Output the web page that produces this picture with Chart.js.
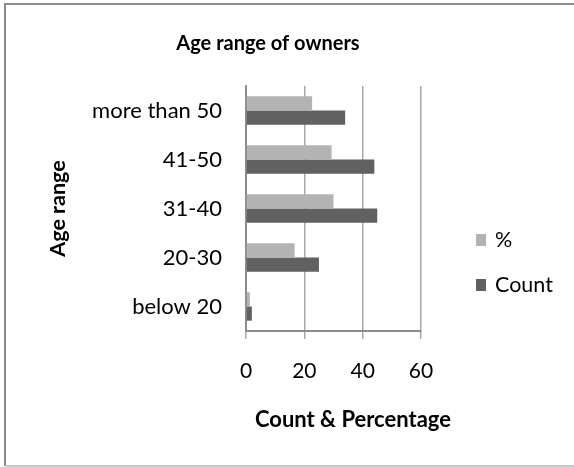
<!DOCTYPE html>
<html>
<head>
<meta charset="utf-8">
<script src="https://cdn.jsdelivr.net/npm/chart.js@4/dist/chart.umd.min.js"></script>
<style>
  html, body { margin: 0; padding: 0; background: #fff; }
  #wrap { width: 574px; height: 467px; }
</style>
</head>
<body>
<div id="wrap"><canvas id="c" width="574" height="467"></canvas></div>
<script>
// Age groups, top to bottom
const categories = ['more than 50', '41-50', '31-40', '20-30', 'below 20'];
// Owners in each age group
const countValues = [34, 44, 45, 25, 2];
// Share of all owners, in percent
const percentValues = [22.67, 29.33, 30.0, 16.67, 1.33];
const xTicks = [0, 20, 40, 60];

const FONT = 'Lato';
const chartTitle = 'Age range of owners';
const xTitle = 'Count & Percentage';
const yTitle = 'Age range';

// Frame, title, x-axis title and legend drawn on the canvas
const decorations = {
  id: 'decorations',
  beforeDraw(chart) {
    const ctx = chart.ctx;
    ctx.save();
    ctx.fillStyle = '#ffffff';
    ctx.fillRect(0, 0, chart.width, chart.height);
    // frame: darker top and left edges, light bottom edge
    ctx.lineWidth = 2;
    ctx.strokeStyle = '#8c8c8c';
    ctx.beginPath();
    ctx.moveTo(5, 466);
    ctx.lineTo(5, 4);
    ctx.lineTo(574, 4);
    ctx.stroke();
    ctx.strokeStyle = '#c8c8c8';
    ctx.beginPath();
    ctx.moveTo(6, 466);
    ctx.lineTo(574, 466);
    ctx.stroke();
    ctx.restore();
  },
  afterDraw(chart) {
    const ctx = chart.ctx;
    ctx.save();
    ctx.fillStyle = '#000';
    ctx.textAlign = 'center';
    ctx.textBaseline = 'middle';
    ctx.font = 'bold 20px ' + FONT;
    ctx.fillText(chartTitle, 268, 44);
    ctx.font = 'bold 22px ' + FONT;
    ctx.fillText(xTitle, 353, 420);

    // legend, listed in dataset order
    const ys = [240, 285];
    ctx.textAlign = 'left';
    ctx.font = '21.5px ' + FONT;
    chart.data.datasets.forEach((ds, i) => {
      ctx.fillStyle = ds.backgroundColor;
      ctx.fillRect(476, ys[i] - 6, 10, 12);
      ctx.fillStyle = '#000';
      ctx.fillText(ds.label, 495, ys[i]);
    });
    ctx.restore();
  }
};

new Chart(document.getElementById('c'), {
  type: 'bar',
  data: {
    labels: categories,
    datasets: [
      { label: '%', data: percentValues, backgroundColor: '#b3b3b3', categoryPercentage: 0.58, barPercentage: 1.0 },
      { label: 'Count', data: countValues, backgroundColor: '#616161', categoryPercentage: 0.58, barPercentage: 1.0 }
    ]
  },
  options: {
    indexAxis: 'y',
    responsive: false,
    animation: false,
    layout: { padding: { left: 0, top: 86, right: 153, bottom: 0 } },
    plugins: {
      legend: { display: false },
      title: { display: false },
      tooltip: { enabled: false }
    },
    scales: {
      x: {
        min: 0,
        max: 60,
        afterBuildTicks(scale) { scale.ticks = xTicks.map(v => ({ value: v })); },
        afterFit(scale) { scale.height = 136; },
        grid: { color: '#a8a8a8', lineWidth: 1.5, tickLength: 8, drawTicks: true },
        border: { display: true, color: '#8c8c8c', width: 2 },
        ticks: { color: '#000', font: { family: FONT, size: 21 }, padding: 20 }
      },
      y: {
        afterFit(scale) { scale.width = 246; },
        grid: { display: false, drawTicks: false },
        border: { display: true, color: '#8c8c8c', width: 2 },
        ticks: { color: '#000', font: { family: FONT, size: 22 }, padding: 24 },
        title: {
          display: true,
          text: yTitle,
          color: '#000',
          font: { family: FONT, size: 21.5, weight: 'bold' },
          padding: { top: 45, bottom: 0 }
        }
      }
    }
  },
  plugins: [decorations]
});
</script>
</body>
</html>
